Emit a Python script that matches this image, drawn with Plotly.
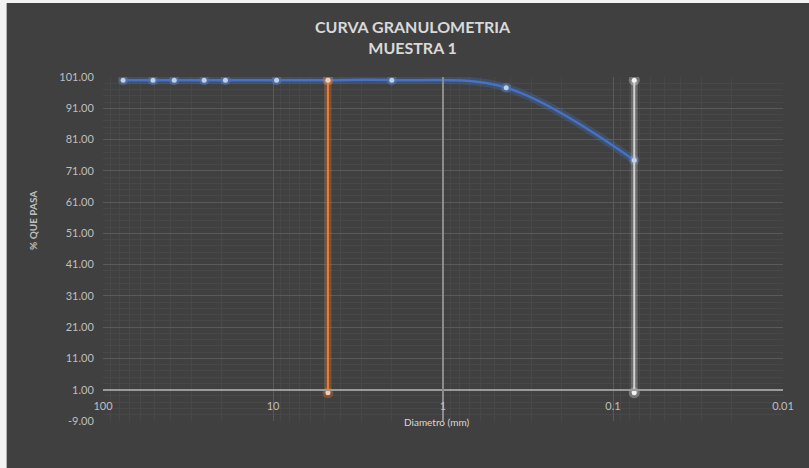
import plotly.graph_objects as go

# ---- data ----
diametro = [76.2, 50.8, 38.1, 25.4, 19.05, 9.525, 4.75, 2.0, 0.425, 0.075]
pasa = [100, 100, 100, 100, 100, 100, 100, 100, 97.6, 74.4]
n4_x = [4.75, 4.75]
n4_y = [0, 100]
n200_x = [0.075, 0.075]
n200_y = [0, 100]
y_ticks = [-9, 1, 11, 21, 31, 41, 51, 61, 71, 81, 91, 101]
y_tick_text = ["%.2f" % v for v in y_ticks]
x_ticks = [100, 10, 1, 0.1, 0.01]
x_tick_text = ["100", "10", "1", "0.1", "0.01"]

BG = "#404040"
FONT = "Lato"
L, R, T, B = 103, 26, 77, 47
W, H = 809, 468
PW, PH = W - L - R, H - T - B

def px_x(p):
    return (p - L) / PW

def px_y(p):
    return (H - B - p) / PH

fig = go.Figure()

# glow for blue curve
fig.add_trace(go.Scatter(x=diametro, y=pasa, mode="lines+markers",
                         line=dict(color="rgba(68,114,196,0.28)", width=8, shape="spline", smoothing=1),
                         marker=dict(size=10, color="rgba(120,160,230,0.30)"),
                         hoverinfo="skip", showlegend=False))
fig.add_trace(go.Scatter(x=diametro, y=pasa, mode="lines+markers",
                         line=dict(color="#4472C4", width=2.5, shape="spline", smoothing=1),
                         marker=dict(size=5, color="#bcd0f0"),
                         showlegend=False, name="% que pasa"))

# glow + orange line
fig.add_trace(go.Scatter(x=n4_x, y=n4_y, mode="lines+markers",
                         line=dict(color="rgba(237,125,49,0.30)", width=7),
                         marker=dict(size=11, color="rgba(237,125,49,0.30)"),
                         hoverinfo="skip", showlegend=False))
fig.add_trace(go.Scatter(x=n4_x, y=n4_y, mode="lines+markers",
                         line=dict(color="#ED7D31", width=2),
                         marker=dict(size=5, color="#f8cbad"),
                         showlegend=False, name="N4"))

# glow + white line
fig.add_trace(go.Scatter(x=n200_x, y=n200_y, mode="lines+markers",
                         line=dict(color="rgba(230,230,230,0.25)", width=7),
                         marker=dict(size=11, color="rgba(240,240,240,0.30)"),
                         hoverinfo="skip", showlegend=False))
fig.add_trace(go.Scatter(x=n200_x, y=n200_y, mode="lines+markers",
                         line=dict(color="#d0d0d0", width=2),
                         marker=dict(size=5, color="#f2f2f2"),
                         showlegend=False, name="N200"))

fig.update_layout(
    width=W, height=H,
    margin=dict(l=L, r=R, t=T, b=B, autoexpand=False),
    paper_bgcolor="#f2f2f2",
    plot_bgcolor=BG,
    font=dict(family=FONT, color="#bfbfbf", size=11),
    xaxis=dict(type="log", range=[2, -2], tickmode="array", tickvals=x_ticks, ticktext=x_tick_text,
               showgrid=True, gridcolor="#5a5a5a", gridwidth=1,
               minor=dict(dtick="D1", showgrid=True, gridcolor="#484848", gridwidth=1),
               anchor="free", position=10 / 110, automargin=False,
               showline=True, linecolor="#9a9a9a", linewidth=1.5,
               ticks="outside", ticklen=6, tickcolor="rgba(0,0,0,0)",
               zeroline=False, tickfont=dict(color="#bfbfbf", size=11)),
    yaxis=dict(range=[-9, 101], tickmode="array", tickvals=y_ticks, ticktext=y_tick_text,
               showgrid=True, gridcolor="#5a5a5a", gridwidth=1, automargin=False,
               minor=dict(tick0=-9, dtick=2, showgrid=True, gridcolor="#484848", gridwidth=1),
               zeroline=False, showline=False,
               ticks="outside", ticklen=6, tickcolor="rgba(0,0,0,0)",
               tickfont=dict(color="#bfbfbf", size=11)),
    yaxis2=dict(range=[-9, 101], overlaying="y", anchor="free", position=0.5, automargin=False,
                showline=True, linecolor="#8c8c8c", linewidth=1.5,
                showgrid=False, showticklabels=False, zeroline=False),
    shapes=[
        dict(type="rect", xref="paper", yref="paper",
             x0=px_x(7), x1=px_x(W + 5), y0=px_y(H + 5), y1=px_y(3),
             fillcolor=BG, line=dict(width=0), layer="below"),
        dict(type="line", xref="paper", yref="paper",
             x0=px_x(6.5), x1=px_x(6.5), y0=px_y(H + 5), y1=px_y(3),
             line=dict(color="#b0b0b0", width=1), layer="below"),
    ],
    annotations=[
        dict(text="<b>CURVA GRANULOMETRIA<br>MUESTRA 1</b>", xref="paper", yref="paper",
             x=px_x(413), y=px_y(37), xanchor="center", yanchor="middle", showarrow=False,
             font=dict(family=FONT, size=16, color="#d9d9d9")),
        dict(text="<b>% QUE PASA</b>", textangle=-90, xref="paper", yref="paper",
             x=px_x(25), y=px_y(221), showarrow=False,
             font=dict(family=FONT, size=10, color="#bfbfbf")),
        dict(text="Diametro (mm)", xref="paper", yref="paper",
             x=px_x(436), y=px_y(430), showarrow=False,
             font=dict(family=FONT, size=10, color="#d9d9d9")),
    ],
)

# trace drawn on yaxis2 to activate it (invisible)
fig.add_trace(go.Scatter(x=[1], y=[None], yaxis="y2", showlegend=False, hoverinfo="skip"))

fig.write_html("out.html", config={"displayModeBar": False},
               post_script="document.body.style.margin='0';")
